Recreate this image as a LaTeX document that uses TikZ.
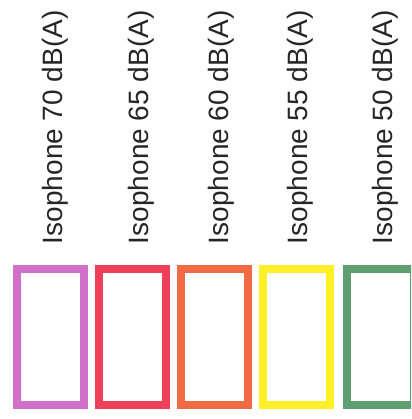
\documentclass[tikz,border=0pt]{standalone}
\usepackage{fontspec}
\setmainfont{Liberation Sans}
\definecolor{cviolet}{HTML}{D070C8}
\definecolor{cred}{HTML}{EE4058}
\definecolor{corange}{HTML}{F06A44}
\definecolor{cyellow}{HTML}{FFF028}
\definecolor{cgreen}{HTML}{5E9E70}
\definecolor{ctext}{HTML}{262626}
\tikzset{
  isolabel/.style={rotate=90, anchor=base west, inner sep=0pt, outer sep=0pt, text=ctext, font=\fontsize{28}{30}\selectfont},
  isobox/.style={draw=#1, line width=8pt, fill=white, minimum width=67pt, minimum height=136pt, inner sep=0pt, outer sep=0pt}
}
\begin{document}
\begin{tikzpicture}[x=1pt,y=-1pt]
\useasboundingbox (0,0) rectangle (411,419);
\clip (0,0) rectangle (411,419);
\node[isolabel] (t70) at (62,244) {Isophone 70 dB(A)};
\node[isolabel] (t65) at (148,244) {Isophone 65 dB(A)};
\node[isolabel] (t60) at (228,244) {Isophone 60 dB(A)};
\node[isolabel] (t55) at (307,244) {Isophone 55 dB(A)};
\node[isolabel] (t50) at (392,244) {Isophone 50 dB(A)};
\node[isobox=cviolet] (b70) at (50.5,337) {};
\node[isobox=cred] (b65) at (132,337) {};
\node[isobox=corange] (b60) at (214.5,337) {};
\node[isobox=cyellow] (b55) at (296,337) {};
\node[isobox=cgreen] (b50) at (380.5,337) {};
\end{tikzpicture}
\end{document}
